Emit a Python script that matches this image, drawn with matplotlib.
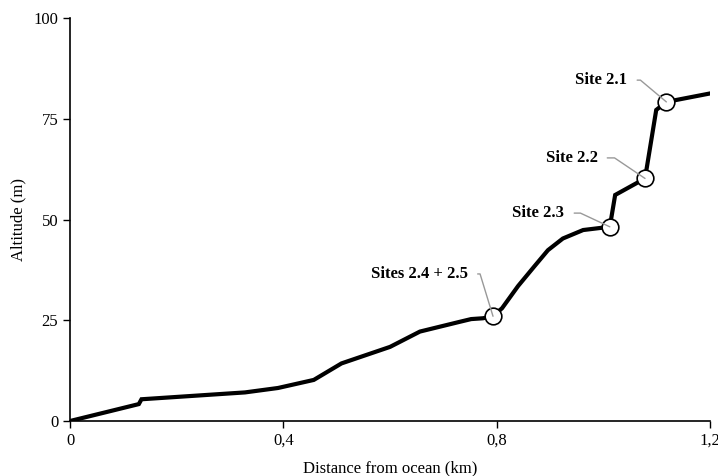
import matplotlib.pyplot as plt

# altitude profile
distance_km = [0, 0.129, 0.134, 0.328, 0.39, 0.457, 0.509, 0.6, 0.656, 0.73, 0.752, 0.774,
               0.793, 0.81, 0.84, 0.87, 0.896, 0.924, 0.962, 1.012, 1.022, 1.078, 1.099,
               1.118, 1.2]
altitude_m = [0, 4.2, 5.4, 7.1, 8.2, 10.2, 14.3, 18.4, 22.2, 24.6, 25.3, 25.5,
              26.0, 28.0, 33.5, 38.3, 42.4, 45.3, 47.4, 48.2, 56.1, 60.2, 77.2,
              79.2, 81.3]

site_labels = ["Site 2.1", "Site 2.2", "Site 2.3", "Sites 2.4 + 2.5"]
site_x = [1.118, 1.078, 1.012, 0.793]
site_y = [79.2, 60.2, 48.2, 26.0]
label_x = [1.045, 0.989, 0.927, 0.746]
label_y = [84.6, 65.3, 51.6, 36.5]
leader_angle = [140, 146, 155, 107]

xticks = [0, 0.4, 0.8, 1.2]
xticklabels = ["0", "0,4", "0,8", "1,2"]
yticks = [0, 25, 50, 75, 100]

plt.rcParams["font.family"] = ["Liberation Serif", "DejaVu Serif"]

fig = plt.figure(figsize=(7.18, 4.76), dpi=100)
ax = fig.add_axes([0.0975, 0.1155, 0.8915, 0.8465])

ax.plot(distance_km, altitude_m, color="black", lw=3, solid_joinstyle="miter", zorder=2)
ax.plot(site_x, site_y, "o", ms=12, mfc="white", mec="black", mew=1.2, ls="none", zorder=3)

for lab, sx, sy, tx, ty, ang in zip(site_labels, site_x, site_y, label_x, label_y, leader_angle):
    ax.annotate(lab, xy=(sx, sy), xytext=(tx, ty), ha="right", va="center",
                fontsize=12, fontweight="bold",
                arrowprops=dict(arrowstyle="-", color="#999999", lw=1,
                                relpos=(1, 0.5), shrinkA=5, shrinkB=0,
                                connectionstyle=f"angle,angleA=0,angleB={ang},rad=0"),
                zorder=4)

ax.set_xlim(0, 1.2)
ax.set_ylim(0, 100)
ax.set_xticks(xticks, xticklabels)
ax.set_yticks(yticks)
ax.tick_params(direction="out", length=5, width=1, labelsize=12, colors="black")
for side in ["top", "right"]:
    ax.spines[side].set_visible(False)
for side in ["left", "bottom"]:
    ax.spines[side].set_linewidth(1.2)
ax.set_xlabel("Distance from ocean (km)", fontsize=12, labelpad=8)
ax.set_ylabel("Altitude (m)", fontsize=12, labelpad=5)

fig.savefig("out.png", dpi=100)
